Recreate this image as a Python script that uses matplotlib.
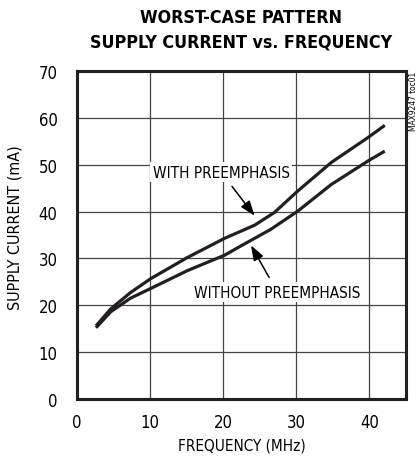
import matplotlib.pyplot as plt
from matplotlib import font_manager
import numpy as np

names = set(f.name for f in font_manager.fontManager.ttflist)
if 'Liberation Sans Narrow' in names:
    plt.rcParams['font.family'] = ['Liberation Sans Narrow', 'DejaVu Sans']
else:
    plt.rcParams['font.family'] = ['DejaVu Sans']
    plt.rcParams['font.stretch'] = 'condensed'

# curves
freq_with = [2.6, 4.6, 7.3, 10.1, 15.1, 20.2, 24.3, 27.0, 30.2, 34.8, 39.8, 42.1]
curr_with = [15.6, 19.2, 22.7, 25.7, 30.2, 34.3, 37.1, 39.8, 44.4, 50.5, 55.8, 58.4]
freq_without = [2.6, 4.6, 7.3, 10.1, 15.1, 20.2, 22.0, 26.5, 30.2, 34.8, 39.8, 42.1]
curr_without = [15.2, 18.6, 21.5, 23.6, 27.4, 30.7, 32.3, 36.2, 40.1, 45.8, 50.8, 52.9]

xticks = [0, 10, 20, 30, 40]
yticks = [0, 10, 20, 30, 40, 50, 60, 70]

fig = plt.figure(figsize=(4.18, 4.64), dpi=100)
ax = fig.add_axes([77/418, 64/464, 329/418, 328/464])

ax.plot(freq_with, curr_with, color='#231f20', lw=2.3, solid_capstyle='butt')
ax.plot(freq_without, curr_without, color='#231f20', lw=2.3, solid_capstyle='butt')

ax.set_xlim(0, 45)
ax.set_ylim(0, 70)
ax.set_xticks(xticks)
ax.set_yticks(yticks)
ax.tick_params(length=0, labelsize=12)
ax.tick_params(axis='y', pad=14)
ax.tick_params(axis='x', pad=10)
ax.grid(True, color='#444444', lw=0.9)
for s in ax.spines.values():
    s.set_linewidth(2.2)
    s.set_color('#231f20')

ax.set_xlabel('FREQUENCY (MHz)', fontsize=11)
ax.xaxis.set_label_coords(0.5, -0.118)
ax.set_ylabel('SUPPLY CURRENT (mA)', fontsize=11.5)
ax.yaxis.set_label_coords(-0.165, 0.526)

arrow = dict(arrowstyle='-|>,head_length=0.7,head_width=0.25', color='black',
             lw=1.1, shrinkA=4, shrinkB=0, mutation_scale=13)
ax.annotate('WITH PREEMPHASIS', xy=(24.3, 39.1), xytext=(19.7, 48.4),
            fontsize=11, ha='center', va='center', arrowprops=arrow,
            bbox=dict(boxstyle='square,pad=0.15', fc='white', ec='none'))
ax.annotate('WITHOUT PREEMPHASIS', xy=(23.8, 32.8), xytext=(27.4, 22.8),
            fontsize=11, ha='center', va='center', arrowprops=arrow,
            bbox=dict(boxstyle='square,pad=0.15', fc='white', ec='none'))

fig.text(241/418, 1 - 18/464, 'WORST-CASE PATTERN', ha='center', va='center',
         fontsize=12.8, fontweight='bold')
fig.text(241/418, 1 - 43/464, 'SUPPLY CURRENT vs. FREQUENCY', ha='center', va='center',
         fontsize=12.8, fontweight='bold')
fig.text(413/418, 1 - 72/464, 'MAX9247 toc01', rotation=90, ha='center', va='top',
         fontsize=6)

fig.savefig('out.png', dpi=100)
